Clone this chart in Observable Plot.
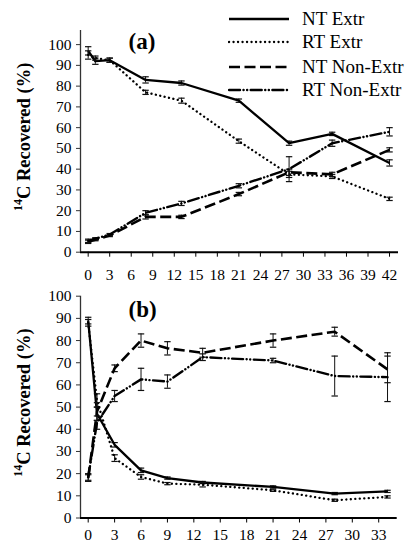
<!DOCTYPE html>
<html><head><meta charset="utf-8">
<script src="https://cdn.jsdelivr.net/npm/d3@7"></script>
<script src="https://cdn.jsdelivr.net/npm/@observablehq/plot@0.6"></script>
<style>
body{margin:0;background:#fff;width:408px;height:546px;position:relative;overflow:hidden;font-family:"Liberation Serif","Times New Roman",serif;color:#000}
#top,#bot{position:absolute;left:0}
#top{top:0}
#bot{top:285px}
.lrow{position:absolute;left:228px;height:24px;display:flex;align-items:center;font-size:19px;white-space:nowrap}
.lrow svg{margin-right:12px}
</style></head><body>
<div id="top"></div><div id="bot"></div>
<div id="legend"></div>
<script>
// ---- data ----
const seriesNames = ["NT Extr", "RT Extr", "NT Non-Extr", "RT Non-Extr"];

// panel (a)
const daysA = [0, 1, 3, 8, 13, 21, 28, 34, 42];
const ntExtrA    = [97, 92, 92.5, 83, 81.5, 73, 52.5, 57, 43];
const rtExtrA    = [95, 93.5, 92.5, 77, 73, 53.5, 37.5, 36.5, 25.7];
const ntNonExtrA = [5, 6, 8, 17, 17, 28, 38.5, 37.5, 49.3];
const rtNonExtrA = [5.5, 6.5, 8.5, 19, 23.5, 32, 40, 52.5, 58];
const ntExtrErrA    = [2, 1.5, 1, 1.5, 1, 0.8, 1, 0.8, 1.5];
const rtExtrErrA    = [2, 1, 1, 1, 1.2, 1, 1.5, 1, 0.8];
const ntNonExtrErrA = [0.8, 0.5, 0.5, 1, 0.8, 0.8, 1.5, 1, 1];
const rtNonExtrErrA = [0.8, 0.5, 0.5, 1, 1, 1, 6, 1.5, 2];
const ticksXA = [0, 3, 6, 9, 12, 15, 18, 21, 24, 27, 30, 33, 36, 39, 42];

// panel (b)
const daysB = [0, 1, 3, 6, 9, 13, 21, 28, 34];
const ntExtrB    = [89, 47, 33, 21.5, 18, 16, 14, 11, 12];
const rtExtrB    = [88, 53, 27, 18.5, 15.5, 15, 12.5, 8, 9.5];
const ntNonExtrB = [18, 48, 67.5, 80, 76.5, 74.5, 80, 84, 67];
const rtNonExtrB = [18.5, 43, 55, 62.5, 61.5, 72.5, 71, 64, 63.5];
const ntExtrErrB    = [1.5, 3, 1, 1, 0.5, 0.5, 0.5, 0.5, 0.5];
const rtExtrErrB    = [1.5, 3, 1.5, 1, 0.5, 1, 0.5, 0.5, 0.5];
const ntNonExtrErrB = [1.5, 4, 1.5, 3, 3, 2, 3, 2, 6];
const rtNonExtrErrB = [1.5, 3, 2.5, 5, 3, 1.5, 1, 9, 11];
const ticksXB = [0, 3, 6, 9, 12, 15, 18, 21, 24, 27, 30, 33];

const ticksY = [0, 10, 20, 30, 40, 50, 60, 70, 80, 90, 100];

// ---- styles ----
const dashes = [null, "0.1,4.4", "11,4.5", "11,3.5,0.1,3.5,0.1,3.5"];
const caps = ["butt", "round", "butt", "round"];
const widths = [2.3, 2.3, 2.6, 2.4];

const capSymbol = {draw(ctx, size) { const w = Math.sqrt(size / Math.PI); ctx.moveTo(-w, 0); ctx.lineTo(w, 0); }};

function panel({days, series, errs, xDomain, yDomain, xTicks, height, mt, mb, mr, tag, pad}) {
  const marks = [
    Plot.ruleX([xDomain[0]], {stroke: "#333", strokeWidth: 1.3}),
    Plot.ruleY([0], {stroke: "#000", strokeWidth: 2}),
    Plot.axisY({ticks: ticksY, tickSize: 4, tickPadding: 5, label: null, stroke: "#333"}),
    Plot.axisX({ticks: xTicks, tickSize: 5, tickPadding: pad, label: null, tickFormat: d => String(d)}),
    Plot.text([tag], {frameAnchor: "top-left", dx: 48, dy: tag === "(a)" ? 2 : 4, fontSize: 23, fontWeight: "bold", textAnchor: "start"})
  ];
  series.forEach((vals, i) => {
    const data = days.map((d, j) => ({day: d, v: vals[j], e: errs[i][j]}));
    marks.push(Plot.ruleX(data, {x: "day", y1: d => d.v - d.e, y2: d => d.v + d.e, stroke: "#111", strokeWidth: 1}));
    marks.push(Plot.dot(data, {x: "day", y: d => d.v + d.e, symbol: capSymbol, r: 3.2, stroke: "#111", strokeWidth: 1.2, fill: "none"}));
    marks.push(Plot.dot(data, {x: "day", y: d => d.v - d.e, symbol: capSymbol, r: 3.2, stroke: "#111", strokeWidth: 1.2, fill: "none"}));
    marks.push(Plot.line(data, {x: "day", y: "v", stroke: "#000", strokeWidth: widths[i], strokeDasharray: dashes[i], strokeLinecap: caps[i]}));
  });
  const svg = Plot.plot({
    width: 408, height,
    marginLeft: 80, marginRight: mr, marginTop: mt, marginBottom: mb,
    x: {domain: xDomain},
    y: {domain: yDomain},
    style: {fontFamily: "'Liberation Serif','Times New Roman',serif", fontSize: "15.5px", color: "#000", background: "#fff", overflow: "visible"},
    marks
  });
  // y axis title with superscript
  const cy = mt + (height - mt - mb) / 2 - 4;
  const t = d3.select(svg).append("text")
    .attr("transform", `translate(24,${cy}) rotate(-90)`)
    .attr("text-anchor", "middle").attr("dominant-baseline", "central")
    .attr("font-weight", "bold").attr("font-size", 18.5).attr("fill", "#000");
  t.append("tspan").attr("font-size", 12).attr("dy", -6).text("14");
  t.append("tspan").attr("dy", 6).text("C Recovered (%)");
  return svg;
}

document.getElementById("top").append(panel({
  days: daysA,
  series: [ntExtrA, rtExtrA, ntNonExtrA, rtNonExtrA],
  errs: [ntExtrErrA, rtExtrErrA, ntNonExtrErrA, rtNonExtrErrA],
  xDomain: [-1.07, 43.25], yDomain: [0, 106.8], xTicks: ticksXA,
  height: 285, mt: 30, mb: 33.3, mr: 10, tag: "(a)", pad: 12
}));
document.getElementById("bot").append(panel({
  days: daysB,
  series: [ntExtrB, rtExtrB, ntNonExtrB, rtNonExtrB],
  errs: [ntExtrErrB, rtExtrErrB, ntNonExtrErrB, rtNonExtrErrB],
  xDomain: [-0.875, 35.1], yDomain: [0, 100], xTicks: ticksXB,
  height: 261, mt: 10.7, mb: 28.5, mr: 11.3, tag: "(b)", pad: 6
}));

// legend
const legendCenters = [19.3, 41.7, 66.5, 90];
const leg = document.getElementById("legend");
seriesNames.forEach((name, i) => {
  const row = document.createElement("div");
  row.className = "lrow";
  row.style.top = (legendCenters[i] - 12) + "px";
  const s = d3.create("svg").attr("width", 62).attr("height", 10);
  s.append("line").attr("x1", 1).attr("x2", 61).attr("y1", 5).attr("y2", 5)
    .attr("stroke", "#000").attr("stroke-width", widths[i])
    .attr("stroke-dasharray", dashes[i]).attr("stroke-linecap", caps[i]);
  row.append(s.node());
  const sp = document.createElement("span");
  sp.textContent = name;
  row.append(sp);
  leg.append(row);
});
</script>
</body></html>
